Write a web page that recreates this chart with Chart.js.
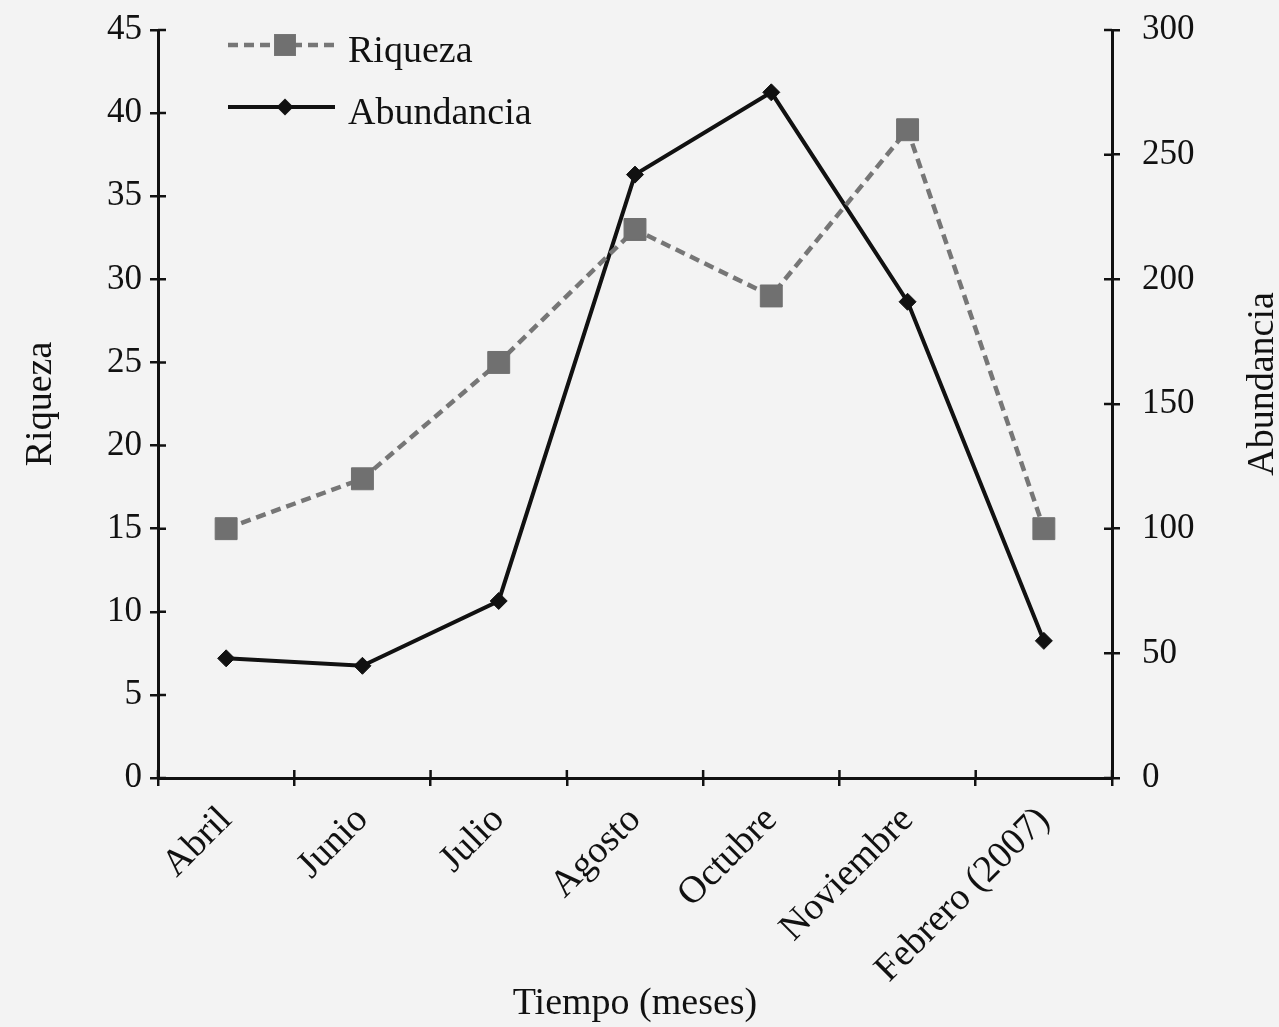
<!DOCTYPE html>
<html>
<head>
<meta charset="utf-8">
<script src="https://cdn.jsdelivr.net/npm/chart.js@4.4.0/dist/chart.umd.min.js"></script>
<style>
  html, body { margin: 0; padding: 0; background: #f3f3f3; }
  #wrap { width: 1279px; height: 1027px; position: relative; }
</style>
</head>
<body>
<div id="wrap"><canvas id="chart"></canvas></div>
<script>
var months = ["Abril", "Junio", "Julio", "Agosto", "Octubre", "Noviembre", "Febrero (2007)"];
var riqueza = [15, 18, 25, 33, 29, 39, 15];
var abundancia = [48, 45, 71, 242, 275, 191, 55];
var FONT = "'Liberation Serif', 'Times New Roman', serif";
var INK = "#111";
var NUM_SIZE = 35;   // tick numbers
var WORD_SIZE = 38;  // words (labels, titles, legend)

// short tick stubs pointing into the plot (ticks cross the axis lines)
var innerTicks = {
  id: "innerTicks",
  afterDraw: function (chart) {
    var ctx = chart.ctx, a = chart.chartArea, len = 8;
    ctx.save();
    ctx.strokeStyle = INK;
    ctx.lineWidth = 2.5;
    ctx.beginPath();
    var y = chart.scales.y, y1 = chart.scales.y1;
    y.ticks.forEach(function (t) {
      var py = y.getPixelForValue(t.value);
      ctx.moveTo(a.left, py); ctx.lineTo(a.left + len, py);
    });
    y1.ticks.forEach(function (t) {
      var py = y1.getPixelForValue(t.value);
      ctx.moveTo(a.right, py); ctx.lineTo(a.right - len, py);
    });
    var step = (a.right - a.left) / months.length;
    for (var i = 0; i <= months.length; i++) {
      var px = a.left + i * step;
      ctx.moveTo(px, a.bottom); ctx.lineTo(px, a.bottom - len);
    }
    ctx.stroke();
    ctx.restore();
  }
};

// legend drawn inside the plot, line + marker + label
var insideLegend = {
  id: "insideLegend",
  afterDraw: function (chart) {
    var ctx = chart.ctx, a = chart.chartArea;
    var x0 = a.left + 70, x1 = a.left + 177, xm = a.left + 127, xt = a.left + 190;
    ctx.save();
    ctx.font = WORD_SIZE + "px " + FONT;
    ctx.textBaseline = "middle";
    ctx.fillStyle = INK;
    chart.data.datasets.forEach(function (ds, i) {
      var ly = a.top + 15 + i * 62;
      ctx.save();
      ctx.strokeStyle = ds.borderColor;
      ctx.lineWidth = ds.borderWidth;
      ctx.setLineDash(ds.borderDash || []);
      ctx.beginPath(); ctx.moveTo(x0, ly); ctx.lineTo(x1, ly); ctx.stroke();
      ctx.restore();
      ctx.save();
      ctx.fillStyle = ds.pointBackgroundColor;
      ctx.beginPath();
      if (ds.pointStyle === "rect") {
        var s = ds.pointRadius * Math.SQRT1_2;
        ctx.rect(xm - s, ly - s, 2 * s, 2 * s);
      } else {
        var r = ds.pointRadius;
        ctx.moveTo(xm - r, ly); ctx.lineTo(xm, ly - r); ctx.lineTo(xm + r, ly); ctx.lineTo(xm, ly + r);
        ctx.closePath();
      }
      ctx.fill();
      ctx.restore();
      ctx.fillText(ds.label, xt, ly + 7);
    });
    ctx.restore();
  }
};

// right axis title, reading bottom to top
var rightTitle = {
  id: "rightTitle",
  afterDraw: function (chart) {
    var ctx = chart.ctx, a = chart.chartArea;
    ctx.save();
    ctx.translate(1263, (a.top + a.bottom) / 2 - 20);
    ctx.rotate(-Math.PI / 2);
    ctx.font = WORD_SIZE + "px " + FONT;
    ctx.fillStyle = INK;
    ctx.textAlign = "center";
    ctx.textBaseline = "middle";
    ctx.fillText("Abundancia", 0, 0);
    ctx.restore();
  }
};

var ctx = document.getElementById("chart").getContext("2d");
new Chart(ctx, {
  type: "line",
  data: {
    labels: months,
    datasets: [
      {
        label: "Riqueza",
        data: riqueza,
        yAxisID: "y",
        borderColor: "#767676",
        borderWidth: 4.5,
        borderDash: [10, 6],
        pointStyle: "rect",
        pointRadius: 15.5,
        pointBackgroundColor: "#707070",
        pointBorderColor: "#707070",
        pointBorderWidth: 1,
        tension: 0,
      },
      {
        label: "Abundancia",
        data: abundancia,
        yAxisID: "y1",
        borderColor: "#111",
        borderWidth: 4,
        pointStyle: "rectRot",
        pointRadius: 8.5,
        pointBackgroundColor: "#111",
        pointBorderColor: "#111",
        pointBorderWidth: 1,
        tension: 0,
      },
    ],
  },
  options: {
    responsive: true,
    maintainAspectRatio: false,
    animation: false,
    layout: { padding: { top: 30, left: 0, right: 0, bottom: 0 } },
    plugins: {
      legend: { display: false },
      tooltip: { enabled: false },
    },
    scales: {
      x: {
        offset: true,
        grid: { offset: true, drawOnChartArea: false, tickLength: 8, color: INK, lineWidth: 2.5 },
        border: { color: INK, width: 3 },
        ticks: {
          color: INK,
          font: { family: FONT, size: WORD_SIZE },
          minRotation: 45,
          maxRotation: 45,
          padding: 12,
        },
        title: {
          display: true,
          text: "Tiempo (meses)",
          color: INK,
          font: { family: FONT, size: WORD_SIZE },
          padding: { top: 0, bottom: 0 },
        },
        afterFit: function (s) { s.height = 249; },
      },
      y: {
        position: "left",
        min: 0,
        max: 45,
        grid: { drawOnChartArea: false, tickLength: 8, color: INK, lineWidth: 2.5 },
        border: { color: INK, width: 3 },
        ticks: { stepSize: 5, color: INK, font: { family: FONT, size: NUM_SIZE }, padding: 8 },
        title: {
          display: true,
          text: "Riqueza",
          color: INK,
          font: { family: FONT, size: WORD_SIZE },
          padding: { top: 18, bottom: 0 },
        },
        afterFit: function (s) { s.width = 158; s.paddingTop = 10; s.paddingBottom = 10; },
      },
      y1: {
        position: "right",
        min: 0,
        max: 300,
        grid: { drawOnChartArea: false, tickLength: 8, color: INK, lineWidth: 2.5 },
        border: { color: INK, width: 3 },
        ticks: { stepSize: 50, color: INK, font: { family: FONT, size: NUM_SIZE }, padding: 22 },
        afterFit: function (s) { s.width = 167; s.paddingTop = 10; s.paddingBottom = 10; },
      },
    },
  },
  plugins: [innerTicks, insideLegend, rightTitle],
});
</script>
</body>
</html>
